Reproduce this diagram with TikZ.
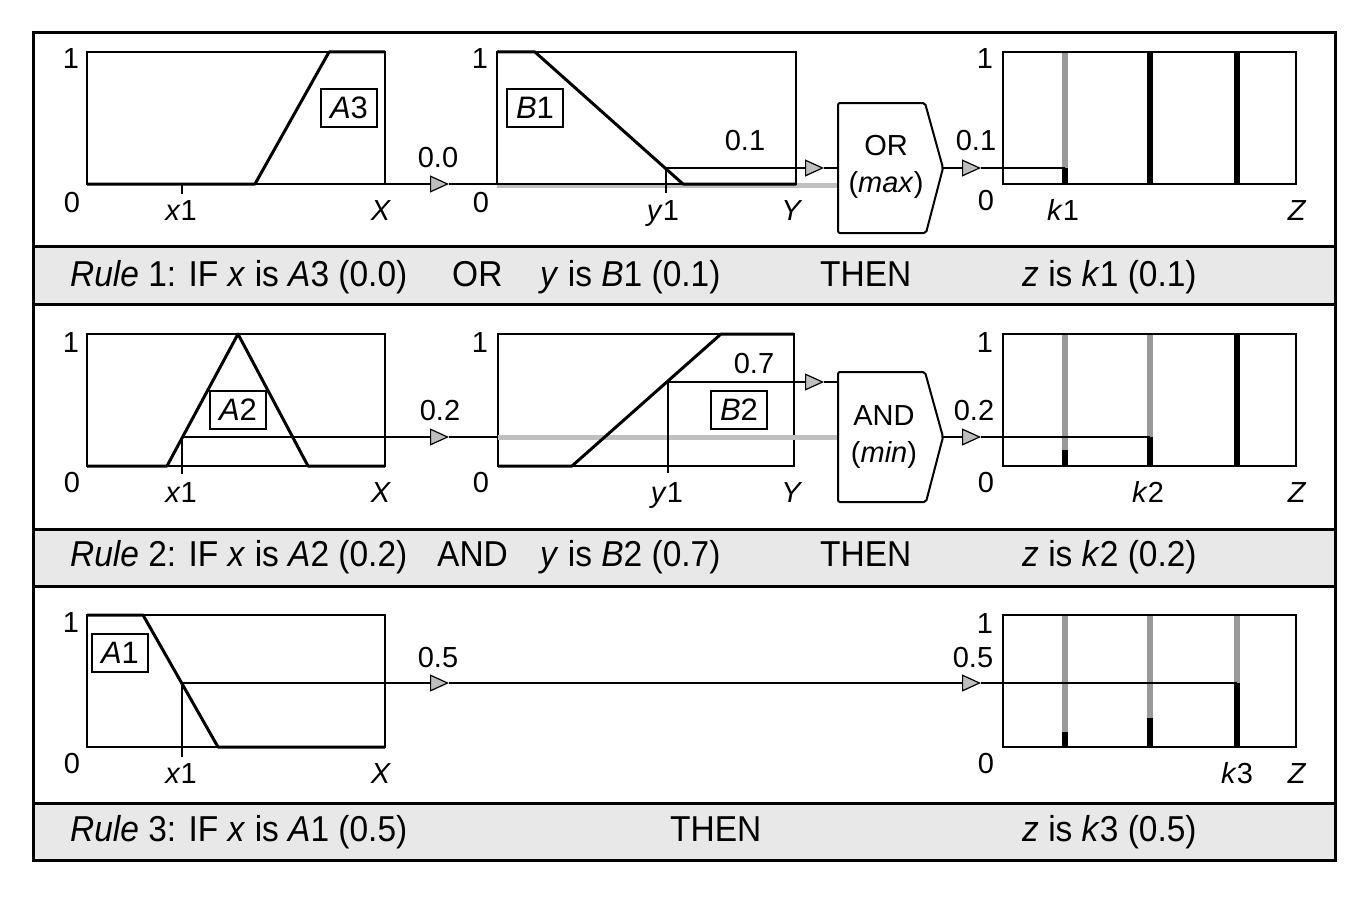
\documentclass[tikz,border=0pt]{standalone}
\usepackage{fontspec}
\setmainfont{Liberation Sans}
\newfontfamily\bandfont[FakeStretch=0.93]{Liberation Sans}
\usetikzlibrary{arrows.meta}
\definecolor{bandgray}{RGB}{232,232,232}
\definecolor{linegray}{RGB}{192,192,192}
\definecolor{bargray}{RGB}{153,153,153}
\definecolor{tipgray}{RGB}{190,190,190}
\begin{document}
\begin{tikzpicture}[x=1pt,y=-1pt,
  frame/.style={draw,line width=2pt},
  mf/.style={line width=3pt,line join=round},
  conn/.style={line width=1.5pt},
  arr/.style={conn,-{Triangle[length=19pt,width=17pt,fill=tipgray,line width=1.2pt]}},
  lab/.style={font=\fontsize{29}{33}\selectfont,inner sep=0pt,anchor=base},
  tagbox/.style={draw,line width=1.5pt,font=\fontsize{31}{35}\selectfont,inner sep=0pt,minimum width=56pt,minimum height=38pt},
  ruletxt/.style={font=\bandfont\fontsize{36}{42}\selectfont,inner sep=0pt,anchor=base west},
  gate/.style={draw,line width=2pt,rounded corners=2pt},
  gatetxt/.style={font=\fontsize{29}{37}\selectfont,align=center,inner sep=0pt},
  gbar/.style={draw=bargray,line width=6pt},
  kbar/.style={draw=black,line width=6pt},
  glow/.style={draw=linegray,line width=5pt},
  sep/.style={line width=3pt}
]
\useasboundingbox (0,0) rectangle (1364,899);

% ---------- bands and outer frame ----------
\fill[bandgray] (33,246) rectangle (1335,304);
\fill[bandgray] (33,529) rectangle (1335,586);
\fill[bandgray] (33,803) rectangle (1335,860);
\foreach \yy in {246,304,529,586,803} \draw[sep] (33,\yy) -- (1335,\yy);
\draw[sep] (33,33) rectangle (1335,860);

% ================= ROW 1 =================
\draw[glow] (497,185.5) -- (838,185.5);
\draw[frame] (87,52) rectangle (385,184);
\draw[frame] (497,52) rectangle (796,184);
\draw[gbar] (1065,52) -- (1065,168);
\draw[kbar] (1065,168) -- (1065,184);
\draw[kbar] (1150,52) -- (1150,184);
\draw[kbar] (1237,52) -- (1237,184);
\draw[frame] (1003,52) rectangle (1296,184);
\draw[mf] (87,184) -- (255,184) -- (329,52) -- (385,52);
\draw[mf] (497,52) -- (535,52) -- (683,184) -- (796,184);
\node[tagbox] (tA3) at (349,108) {\textit{A}3};
\node[tagbox] (tB1) at (535,108) {\textit{B}1};

\coordinate (r1a) at (385,184);
\coordinate (r1t) at (449,184);
\coordinate (r1b) at (497,184);
\coordinate (r1x) at (182,184);
\coordinate (r1xt) at (182,194);
\coordinate (r1y) at (666,168);
\coordinate (r1yt) at (666,193);
\coordinate (r1yv) at (824,168);
\draw[gate] (838,103) -- (925,103) -- (943,168) -- (926,233) -- (838,233) -- cycle;
\node[gatetxt] (gOR) at (886,167) {OR\\(\textit{max})};
\coordinate (gORin) at (838,168);
\coordinate (gORout) at (943,168);
\coordinate (r1zt) at (981,168);
\coordinate (r1k) at (1065,168);
\draw[conn] (r1x) -- (r1xt);
\draw[arr] (r1a) -- (r1t);
\draw[conn] (r1t) -- (r1b);
\draw[conn] (r1yt) -- (r1y);
\draw[arr] (r1y) -- (r1yv);
\draw[conn] (r1yv) -- (gORin);
\draw[arr] (gORout) -- (r1zt);
\draw[conn] (r1zt) -- (r1k);

\node[lab] at (71,68) {1};
\node[lab] at (72,212) {0};
\node[lab] at (181,220) {\textit{x}1};
\node[lab] at (381,220) {\textit{X}};
\node[lab] at (438,167) {0.0};
\node[lab] at (480,68) {1};
\node[lab] at (481,212) {0};
\node[lab] at (663,220) {\textit{y}1};
\node[lab] at (792,220) {\textit{Y}};
\node[lab] at (745,150) {0.1};
\node[lab] at (976,150) {0.1};
\node[lab] at (985,68) {1};
\node[lab] at (986,210) {0};
\node[lab] at (1063,220) {\textit{k}1};
\node[lab] at (1297,220) {\textit{Z}};

\node[ruletxt] at (70,286) {\textit{Rule} 1: IF \textit{x} is \textit{A}3 (0.0)};
\node[ruletxt] at (452,286) {OR};
\node[ruletxt] at (540,286) {\textit{y} is \textit{B}1 (0.1)};
\node[ruletxt] at (820,286) {THEN};
\node[ruletxt] at (1022,286) {\textit{z} is \textit{k}1 (0.1)};

% ================= ROW 2 =================
\draw[frame] (87,334) rectangle (385,466);
\draw[frame] (498,334) rectangle (794,466);
\draw[glow] (498,437) -- (838,437);
\draw[gbar] (1065,334) -- (1065,450);
\draw[kbar] (1065,450) -- (1065,466);
\draw[gbar] (1150,334) -- (1150,437);
\draw[kbar] (1150,437) -- (1150,466);
\draw[kbar] (1237,334) -- (1237,466);
\draw[frame] (1003,334) rectangle (1296,466);
\draw[mf] (87,466) -- (167,466) -- (238,334) -- (308,466) -- (385,466);
\draw[mf] (498,466) -- (572,466) -- (721,334) -- (794,334);
\node[tagbox,fill=white] (tA2) at (238,410) {\textit{A}2};
\node[tagbox] (tB2) at (739,410) {\textit{B}2};

\coordinate (r2x) at (182,437);
\coordinate (r2xt) at (182,474);
\coordinate (r2t) at (449,437);
\coordinate (r2b) at (498,437);
\coordinate (r2y) at (668,382);
\coordinate (r2yt) at (668,473);
\coordinate (r2yv) at (824,382);
\draw[gate] (838,372) -- (925,372) -- (943,437) -- (926,502) -- (838,502) -- cycle;
\node[gatetxt] (gAND) at (884,437) {AND\\(\textit{min})};
\coordinate (gANDin) at (838,382);
\coordinate (gANDout) at (943,437);
\coordinate (r2zt) at (981,437);
\coordinate (r2k) at (1150,437);
\draw[conn] (r2x) -- (r2xt);
\draw[arr] (r2x) -- (r2t);
\draw[conn] (r2t) -- (r2b);
\draw[conn] (r2yt) -- (r2y);
\draw[arr] (r2y) -- (r2yv);
\draw[conn] (r2yv) -- (gANDin);
\draw[arr] (gANDout) -- (r2zt);
\draw[conn] (r2zt) -- (r2k);

\node[lab] at (71,352) {1};
\node[lab] at (72,492) {0};
\node[lab] at (181,502) {\textit{x}1};
\node[lab] at (381,502) {\textit{X}};
\node[lab] at (440,420) {0.2};
\node[lab] at (480,352) {1};
\node[lab] at (481,492) {0};
\node[lab] at (667,502) {\textit{y}1};
\node[lab] at (792,502) {\textit{Y}};
\node[lab] at (754,373) {0.7};
\node[lab] at (974,420) {0.2};
\node[lab] at (985,352) {1};
\node[lab] at (986,492) {0};
\node[lab] at (1148,502) {\textit{k}2};
\node[lab] at (1297,502) {\textit{Z}};

\node[ruletxt] at (70,566) {\textit{Rule} 2: IF \textit{x} is \textit{A}2 (0.2)};
\node[ruletxt] at (437,566) {AND};
\node[ruletxt] at (540,566) {\textit{y} is \textit{B}2 (0.7)};
\node[ruletxt] at (820,566) {THEN};
\node[ruletxt] at (1022,566) {\textit{z} is \textit{k}2 (0.2)};

% ================= ROW 3 =================
\draw[frame] (87,615) rectangle (385,747);
\draw[gbar] (1065,615) -- (1065,732);
\draw[kbar] (1065,732) -- (1065,747);
\draw[gbar] (1150,615) -- (1150,718);
\draw[kbar] (1150,718) -- (1150,747);
\draw[gbar] (1237,615) -- (1237,683);
\draw[kbar] (1237,683) -- (1237,747);
\draw[frame] (1003,615) rectangle (1296,747);
\draw[mf] (87,615) -- (143,615) -- (218,747) -- (385,747);
\node[tagbox] (tA1) at (120,653) {\textit{A}1};

\coordinate (r3x) at (182,683);
\coordinate (r3xt) at (182,757);
\coordinate (r3t) at (449,683);
\coordinate (r3zt) at (981,683);
\coordinate (r3k) at (1237,683);
\draw[conn] (r3x) -- (r3xt);
\draw[arr] (r3x) -- (r3t);
\draw[arr] (r3t) -- (r3zt);
\draw[conn] (r3zt) -- (r3k);

\node[lab] at (71,632) {1};
\node[lab] at (72,773) {0};
\node[lab] at (181,783) {\textit{x}1};
\node[lab] at (381,783) {\textit{X}};
\node[lab] at (438,667) {0.5};
\node[lab] at (973,667) {0.5};
\node[lab] at (985,633) {1};
\node[lab] at (986,773) {0};
\node[lab] at (1237,783) {\textit{k}3};
\node[lab] at (1297,783) {\textit{Z}};

\node[ruletxt] at (70,841) {\textit{Rule} 3: IF \textit{x} is \textit{A}1 (0.5)};
\node[ruletxt] at (670,841) {THEN};
\node[ruletxt] at (1022,841) {\textit{z} is \textit{k}3 (0.5)};
\end{tikzpicture}
\end{document}
